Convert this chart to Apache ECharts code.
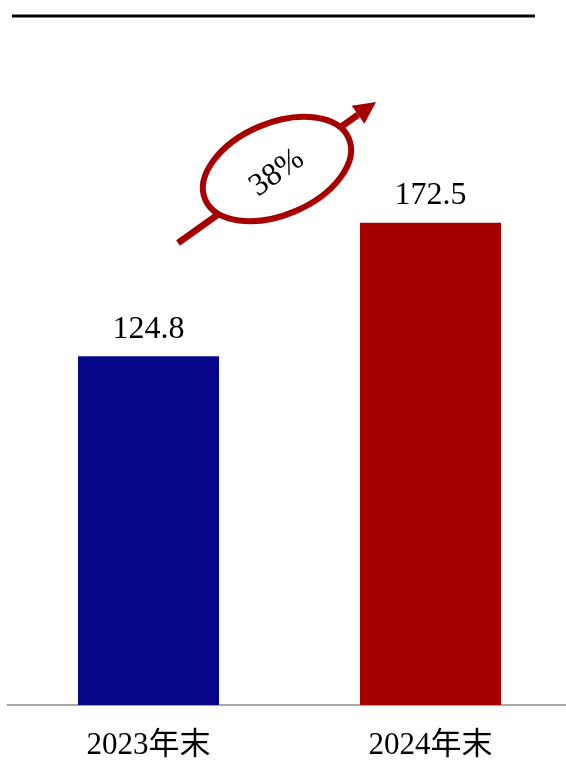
<!DOCTYPE html>
<html>
<head>
<meta charset="utf-8">
<script src="https://cdn.jsdelivr.net/npm/echarts@6/dist/echarts.min.js"></script>
<style>html,body{margin:0;padding:0;background:#fff;overflow:hidden;}#c{width:580px;height:764px;}</style>
</head>
<body>
<div id="c"></div>
<script>
const categories = ['2023年末', '2024年末'];
const values = [124.8, 172.5];
const barColors = ['#060688', '#A60000'];
const growthLabel = '38%';

const FONT = "'Liberation Serif','Times New Roman','Noto Sans CJK SC',serif";
const RED = '#A60000';
const chart = echarts.init(document.getElementById('c'), null, {renderer: 'canvas'});

// arrow geometry
const tail = [178, 243], tip = [376, 102];
const dx = tip[0] - tail[0], dy = tip[1] - tail[1];
const len = Math.sqrt(dx * dx + dy * dy);
const ux = dx / len, uy = dy / len;
const headLen = 22, headHalf = 11;
const base = [tip[0] - ux * headLen, tip[1] - uy * headLen];
const px = -uy, py = ux;

chart.setOption({
  animation: false,
  grid: {left: 7.5, width: 564, top: 146, bottom: 59},
  xAxis: {
    type: 'category',
    data: categories,
    axisLine: {show: true, lineStyle: {color: '#a6a6a6', width: 2}},
    axisTick: {show: false},
    axisLabel: {fontFamily: FONT, fontSize: 31, color: '#000', margin: 25}
  },
  yAxis: {type: 'value', min: 0, max: 200, show: false, splitLine: {show: false}},
  series: [{
    type: 'bar',
    barWidth: '50%',
    data: values.map((v, i) => ({value: v, itemStyle: {color: barColors[i]}})),
    label: {show: true, position: 'top', distance: 11, fontFamily: FONT, fontSize: 32, color: '#000',
      formatter: p => p.value.toFixed(1)}
  }],
  graphic: [
    {type: 'line', shape: {x1: 12, y1: 16, x2: 535, y2: 16}, style: {stroke: '#000', lineWidth: 3}},
    {type: 'line', shape: {x1: tail[0], y1: tail[1], x2: base[0], y2: base[1]}, style: {stroke: RED, lineWidth: 6.5}},
    {type: 'polygon', shape: {points: [tip, [base[0] + px * headHalf, base[1] + py * headHalf], [base[0] - px * headHalf, base[1] - py * headHalf]]}, style: {fill: RED}},
    {type: 'ellipse', x: 277, y: 169, rotation: 0.4, shape: {cx: 0, cy: 0, rx: 78, ry: 46}, style: {fill: '#fff', stroke: RED, lineWidth: 6}},
    {type: 'text', x: 277, y: 173, rotation: 0.62, style: {text: growthLabel, fontFamily: FONT, fontSize: 32, fill: '#000', align: 'center', verticalAlign: 'middle'}}
  ]
});
</script>
</body>
</html>
